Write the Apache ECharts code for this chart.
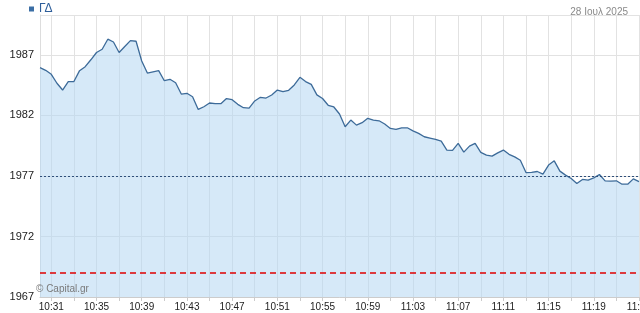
<!DOCTYPE html>
<html>
<head>
<meta charset="utf-8">
<script src="https://cdn.jsdelivr.net/npm/echarts@6/dist/echarts.min.js"></script>
<style>
html,body{margin:0;padding:0;background:#fff;}
#chart{width:640px;height:313px;}
</style>
</head>
<body>
<div id="chart"></div>
<script>
// Price every 30 seconds from 10:30:00 to 11:23:00
const values = [
  1985.95, 1985.73, 1985.40, 1984.66, 1984.10, 1984.80, 1984.80, 1985.70, 1986.03, 1986.60,
  1987.20, 1987.47, 1988.30, 1988.07, 1987.20, 1987.70, 1988.18, 1988.13, 1986.50, 1985.50,
  1985.60, 1985.70, 1984.87, 1984.99, 1984.70, 1983.77, 1983.83, 1983.55, 1982.50, 1982.72,
  1983.03, 1982.97, 1982.97, 1983.40, 1983.30, 1982.92, 1982.64, 1982.60, 1983.20, 1983.50,
  1983.44, 1983.69, 1984.10, 1983.96, 1984.08, 1984.52, 1985.15, 1984.80, 1984.57, 1983.70,
  1983.40, 1982.84, 1982.70, 1982.12, 1981.07, 1981.62, 1981.20, 1981.40, 1981.76, 1981.62,
  1981.56, 1981.29, 1980.93, 1980.85, 1980.98, 1980.98, 1980.73, 1980.52, 1980.24, 1980.13,
  1980.02, 1979.88, 1979.14, 1979.11, 1979.69, 1978.97, 1979.47, 1979.69, 1978.95, 1978.72,
  1978.64, 1978.91, 1979.14, 1978.79, 1978.58, 1978.30, 1977.28, 1977.30, 1977.37, 1977.15,
  1977.90, 1978.25, 1977.40, 1977.07, 1976.79, 1976.38, 1976.71, 1976.65, 1976.84, 1977.12,
  1976.60, 1976.57, 1976.60, 1976.32, 1976.32, 1976.76, 1976.54
];
const prevClose = 1977.0;
const lowLevel = 1969.0;
const yMin = 1967;
const yMax = 1990.3;
const yStep = 5;
const seriesName = 'ΓΔ';
const dateLabel = '28 Ιουλ 2025';
const watermark = '© Capital.gr';

const categories = [];
for (let i = 0; i < values.length; i++) {
  const totalSec = (10 * 60 + 30) * 60 + i * 30;
  const h = Math.floor(totalSec / 3600);
  const m = Math.floor((totalSec % 3600) / 60);
  const s = totalSec % 60;
  categories.push(h + ':' + String(m).padStart(2, '0') + ':' + String(s).padStart(2, '0'));
}
const isGrid = (idx) => idx % 4 === 2;
const isLabel = (idx) => idx % 8 === 2;
const FONT = 'Liberation Sans, Arial, sans-serif';

const chart = echarts.init(document.getElementById('chart'), null, {renderer: 'canvas'});
chart.setOption({
  animation: false,
  backgroundColor: '#ffffff',
  textStyle: {fontFamily: FONT},
  title: {
    text: dateLabel,
    right: 7,
    top: 2,
    textStyle: {color: '#8a8a8a', fontSize: 10, fontWeight: 'normal', fontFamily: FONT}
  },
  legend: {
    data: [seriesName],
    left: 24,
    top: 1,
    padding: [2, 5, 2, 5],
    icon: 'rect',
    itemWidth: 5,
    itemHeight: 5,
    itemGap: 4,
    textStyle: {color: '#2e5e9a', fontSize: 12, fontFamily: FONT}
  },
  graphic: [{
    type: 'text',
    left: 36,
    top: 284,
    z: 100,
    style: {text: watermark, fill: '#7a7a7a', fontSize: 10, fontFamily: FONT}
  }],
  grid: {left: 40, right: 1, top: 15, bottom: 16, containLabel: false, outerBoundsMode: 'none'},
  xAxis: {
    type: 'category',
    data: categories,
    boundaryGap: false,
    axisLine: {show: true, lineStyle: {color: '#cccccc', width: 1}},
    axisTick: {show: true, interval: isGrid, length: 4, lineStyle: {color: '#cccccc'}},
    splitLine: {show: true, interval: isGrid, lineStyle: {color: '#e2e2e2', width: 1}},
    axisLabel: {
      interval: isLabel,
      color: '#222222',
      fontSize: 10,
      margin: 5,
      alignMaxLabel: 'center',
      fontFamily: FONT,
      formatter: (v) => v.slice(0, v.lastIndexOf(':'))
    }
  },
  yAxis: {
    type: 'value',
    min: yMin,
    max: yMax,
    interval: yStep,
    axisLine: {show: true, lineStyle: {color: '#dddddd'}},
    axisTick: {show: false},
    splitLine: {show: true, lineStyle: {color: '#e2e2e2', width: 1}},
    axisLabel: {
      color: '#222222',
      fontSize: 11,
      margin: 6,
      showMaxLabel: false,
      fontFamily: FONT,
      formatter: (v) => String(Math.round(v))
    }
  },
  series: [{
    name: seriesName,
    type: 'line',
    data: values,
    symbol: 'none',
    lineStyle: {color: '#3d6b99', width: 1.3},
    itemStyle: {color: '#3b6ea5'},
    areaStyle: {origin: 'start', color: 'rgba(180,215,242,0.55)', opacity: 1},
    markLine: {
      silent: true,
      symbol: 'none',
      label: {show: false},
      data: [
        {yAxis: prevClose, lineStyle: {color: '#2f4f7a', type: [2, 2], width: 1}},
        {yAxis: lowLevel, lineStyle: {color: '#e00000', type: [6, 4], width: 1.5}}
      ]
    }
  }]
});
</script>
</body>
</html>
